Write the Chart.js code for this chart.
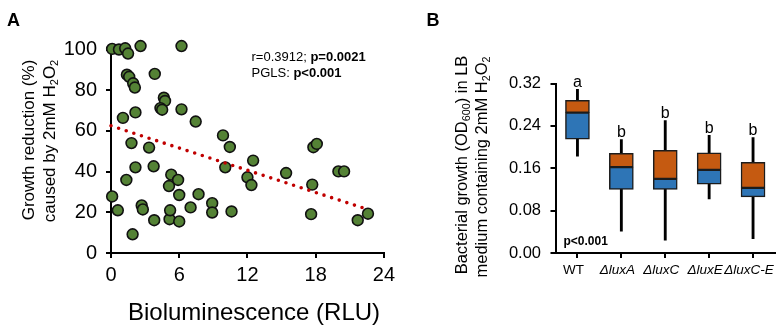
<!DOCTYPE html>
<html><head><meta charset="utf-8">
<script src="https://cdn.jsdelivr.net/npm/chart.js@4.4.1/dist/chart.umd.min.js"></script>
<style>
html,body{margin:0;padding:0;background:#fff;}
#wrap{position:relative;width:783px;height:329px;overflow:hidden;background:#fff;}
#ca{position:absolute;left:0;top:0;width:400px;height:329px;}
#cb{position:absolute;left:400px;top:0;width:383px;height:329px;}
</style></head><body>
<div id="wrap">
<div id="ca"><canvas id="chartA" width="400" height="329"></canvas></div>
<div id="cb"><canvas id="chartB" width="383" height="329"></canvas></div>
</div>
<script>
// ---------- Panel A data ----------
const bioluminescence = [0.1,0.7,1.25,1.5,2.6,6.2, 1.4,1.6,3.85,1.95,2.1, 1.05,2.15,4.65,4.75,4.35,4.5,6.2,7.45, 9.85,10.45,1.8,3.35,12.5,10.05,2.15,3.75, 1.35,5.3,5.9,5.1,6.0,7.7, 12.0,12.35,15.4,17.8,18.1,17.7,20.0,20.5, 17.6,21.7,22.6, 0.1,0.6,1.9,2.7,2.8,3.8,5.15,5.2,6.0,7.0,8.9,8.9,10.6];
const growthReduction = [100.3,100,100.6,98,101.7,101.7, 87.6,86.6,88,83.4,81.3, 66.4,69.1,76.3,74.7,71.2,70.4,70.6,64.6, 57.8,52.1,54,51.8,45.4,42.1,42.1,42.6, 35.9,38.5,35.9,32.9,28.5,28.9, 37.2,33.4,39.3,52,53.6,33.6,40.1,40.1, 19.1,16.1,19.3, 27.8,21,9.2,23.4,21.4,16.1,16.6,21,15.5,22.4,24.5,19.9,20.4];
const trendX = [0, 22.7];
const trendY = [62.5, 21.2];
const xTicksA = [0, 6, 12, 18, 24];
const yTicksA = [0, 20, 40, 60, 80, 100];

// ---------- Panel B data ----------
const strains = ['WT', '\u0394luxA', '\u0394luxC', '\u0394luxE', '\u0394luxC-E'];
const whiskerLow  = [0.183, 0.041, 0.024, 0.102, 0.027];
const quartile1   = [0.215, 0.120, 0.120, 0.130, 0.106];
const medianVal   = [0.265, 0.162, 0.140, 0.157, 0.123];
const quartile3   = [0.288, 0.188, 0.194, 0.189, 0.171];
const whiskerHigh = [0.309, 0.214, 0.250, 0.222, 0.218];
const groupLetters = ['a', 'b', 'b', 'b', 'b'];
const yTicksB = [0, 0.08, 0.16, 0.24, 0.32];

const FAM = '"Liberation Sans", Arial, Helvetica, sans-serif';
function fontStr(s, size){
  const sz = s.sub ? size*0.65 : size;
  return (s.italic?'italic ':'') + (s.bold?'bold ':'') + sz + 'px ' + FAM;
}
function drawRich(ctx, segs, x0, y0, size, opts){
  opts = opts || {};
  ctx.save();
  ctx.translate(x0, y0);
  if (opts.rot) ctx.rotate(-Math.PI/2);
  ctx.textBaseline = 'middle';
  ctx.textAlign = 'left';
  ctx.fillStyle = '#000';
  let total = 0;
  segs.forEach(s => { ctx.font = fontStr(s, size); total += ctx.measureText(s.t).width; });
  let x = opts.align === 'left' ? 0 : -total/2;
  segs.forEach(s => {
    ctx.font = fontStr(s, size);
    ctx.fillText(s.t, x, s.sub ? size*0.3 : 0);
    x += ctx.measureText(s.t).width;
  });
  ctx.restore();
}

const axisCommon = {
  grid: {display:true, drawOnChartArea:false, drawTicks:true, tickLength:5, color:'#000', lineWidth:2},
  border: {display:true, color:'#000', width:2}
};

// ---------- Panel A ----------
const decorA = {
  id:'decorA',
  afterDraw(chart){
    const ctx = chart.ctx;
    drawRich(ctx, [{t:'A', bold:true}], 7, 21, 18, {align:'left'});
    drawRich(ctx, [{t:'Growth reduction (%)'}], 29.5, 140, 17, {rot:true});
    drawRich(ctx, [{t:'caused by 2mM H'},{t:'2',sub:true},{t:'O'},{t:'2',sub:true}], 50, 141, 17, {rot:true});
    drawRich(ctx, [{t:'Bioluminescence (RLU)'}], 254, 313, 24);
    drawRich(ctx, [{t:'r=0.3912; '},{t:'p=0.0021',bold:true}], 251.5, 57.8, 13, {align:'left'});
    drawRich(ctx, [{t:'PGLS: '},{t:'p<0.001',bold:true}], 251.5, 73, 13, {align:'left'});
  }
};

new Chart(document.getElementById('chartA'), {
  type:'scatter',
  data:{datasets:[
    {type:'line', data: trendX.map((x,i)=>({x:x, y:trendY[i]})), borderColor:'#c00000', borderWidth:3.6,
     borderDash:[0,8], borderCapStyle:'round', pointRadius:0, fill:false, clip:false, order:0},
    {data: bioluminescence.map((x,i)=>({x:x, y:growthReduction[i]})), backgroundColor:'#548235',
     borderColor:'#111', borderWidth:1.6, pointRadius:5.4, clip:false, order:1}
  ]},
  options:{
    responsive:false, animation:false, devicePixelRatio:1,
    layout:{padding:{top:49.5, right:15, left:0, bottom:0}},
    plugins:{legend:{display:false}, tooltip:{enabled:false}},
    scales:{
      x:{type:'linear', min:0, max:24, ...axisCommon,
         afterBuildTicks(s){ s.ticks = xTicksA.map(v=>({value:v})); },
         afterFit(s){ s.height = 76; },
         ticks:{color:'#000', padding:5, maxRotation:0, minRotation:0, font:{family:FAM, size:20}}},
      y:{type:'linear', min:0, max:100, ...axisCommon,
         afterBuildTicks(s){ s.ticks = yTicksA.map(v=>({value:v})); },
         afterFit(s){ s.width = 111; },
         ticks:{color:'#000', padding:9, font:{family:FAM, size:20}}}
    }
  },
  plugins:[decorA]
});

// ---------- Panel B ----------
const decorB = {
  id:'decorB',
  afterDatasetsDraw(chart){
    const ctx = chart.ctx, xs = chart.scales.x, ys = chart.scales.y;
    ctx.save();
    ctx.fillStyle = '#000';
    ctx.font = '16px ' + FAM;
    ctx.textAlign = 'center';
    ctx.textBaseline = 'alphabetic';
    groupLetters.forEach((L,i)=>{
      ctx.fillText(L, xs.getPixelForValue(i), ys.getPixelForValue(whiskerHigh[i]) - 2.5);
    });
    ctx.restore();
  },
  afterDraw(chart){
    const ctx = chart.ctx;
    drawRich(ctx, [{t:'B', bold:true}], 26.5, 21, 18, {align:'left'});
    drawRich(ctx, [{t:'Bacterial growth (OD'},{t:'600',sub:true},{t:') in LB'}], 62, 165, 16.5, {rot:true});
    drawRich(ctx, [{t:'medium containing 2mM H'},{t:'2',sub:true},{t:'O'},{t:'2',sub:true}], 82, 167, 16.5, {rot:true});
    drawRich(ctx, [{t:'p<0.001', bold:true}], 163.5, 242, 12, {align:'left'});
  }
};

new Chart(document.getElementById('chartB'), {
  type:'bar',
  data:{labels: strains, datasets:[
    {label:'Q1-median', data: quartile1.map((v,i)=>[v, medianVal[i]]), backgroundColor:'#2e75b6',
     borderColor:'#1c1c1c', borderWidth:{top:1.4, bottom:1.5, left:1.5, right:1.5}, borderSkipped:false,
     barThickness:24, grouped:false, order:1},
    {label:'median-Q3', data: medianVal.map((v,i)=>[v, quartile3[i]]), backgroundColor:'#c55a11',
     borderColor:'#1c1c1c', borderWidth:{top:1.5, bottom:1.4, left:1.5, right:1.5}, borderSkipped:false,
     barThickness:24, grouped:false, order:1},
    {label:'whisker', data: whiskerLow.map((v,i)=>[v, whiskerHigh[i]]), backgroundColor:'#000',
     borderWidth:0, barThickness:2.2, grouped:false, order:5}
  ]},
  options:{
    responsive:false, animation:false, devicePixelRatio:1,
    layout:{padding:{top:83.5, right:8, left:0, bottom:0}},
    plugins:{legend:{display:false}, tooltip:{enabled:false}},
    scales:{
      x:{type:'category', offset:true, stacked:false, ...axisCommon,
         grid:{...axisCommon.grid, offset:false},
         afterFit(s){ s.height = 76; },
         ticks:{color:'#000', padding:4, maxRotation:0, minRotation:0, autoSkip:false, labelOffset:-4,
           font:(c)=>({family:FAM, size:13.5, style: c.index===0 ? 'normal' : 'italic'})}},
      y:{type:'linear', min:0, max:0.32, stacked:false, ...axisCommon,
         afterBuildTicks(s){ s.ticks = yTicksB.map(v=>({value:v})); },
         afterFit(s){ s.width = 155.5; },
         ticks:{color:'#000', padding:9.5, font:{family:FAM, size:16.5},
           callback:(v)=>Number(v).toFixed(2)}}
    }
  },
  plugins:[decorB]
});
</script>
</body></html>
